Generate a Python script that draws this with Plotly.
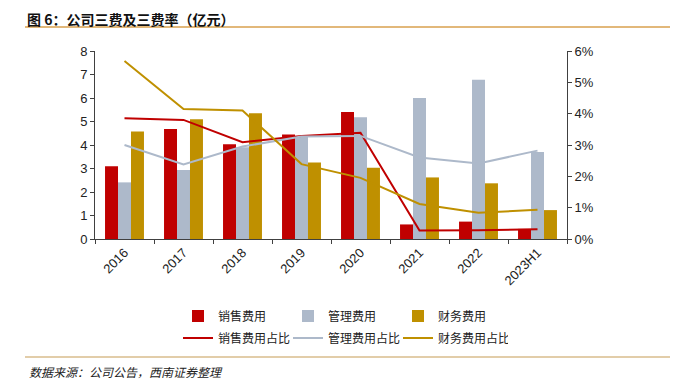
import plotly.graph_objects as go

categories = ["2016", "2017", "2018", "2019", "2020", "2021", "2022", "2023H1"]
sales_exp = [3.1, 4.68, 4.03, 4.45, 5.4, 0.62, 0.74, 0.43]
admin_exp = [2.41, 2.94, 3.9, 4.38, 5.18, 6.0, 6.78, 3.7]
fin_exp = [4.57, 5.1, 5.35, 3.26, 3.03, 2.62, 2.37, 1.23]
sales_ratio = [0.0385, 0.038, 0.0309, 0.0329, 0.0339, 0.0027, 0.0028, 0.0031]
admin_ratio = [0.030, 0.0238, 0.0295, 0.0327, 0.0329, 0.026, 0.0241, 0.0282]
fin_ratio = [0.0568, 0.0415, 0.041, 0.0239, 0.0195, 0.0112, 0.0084, 0.0093]

RED = "#C00000"
GRAY = "#ADB9CA"
GOLD = "#BF9000"
CJK = "Noto Sans CJK SC"

fig = go.Figure()
for name, vals, col in [("销售费用", sales_exp, RED), ("管理费用", admin_exp, GRAY), ("财务费用", fin_exp, GOLD)]:
    fig.add_trace(go.Bar(x=categories, y=vals, name=name, marker_color=col,
                         marker_line_width=0, legend="legend"))
for name, vals, col in [("销售费用占比", sales_ratio, RED), ("管理费用占比", admin_ratio, GRAY), ("财务费用占比", fin_ratio, GOLD)]:
    fig.add_trace(go.Scatter(x=categories, y=vals, name=name, mode="lines",
                             line=dict(color=col, width=2), yaxis="y2", legend="legend2"))

# page body adds ~8px offset; compensate
OFF = 8
axis_col = "#404040"
fig.update_layout(
    width=694 - OFF, height=383 - OFF,
    margin=dict(l=95 - OFF, r=127, t=51 - OFF, b=144, autoexpand=False),
    paper_bgcolor="white", plot_bgcolor="white",
    barmode="group", bargap=0.34, bargroupgap=0,
    font=dict(family="Liberation Sans, Arial", size=12, color="#222"),
    xaxis=dict(showline=True, linecolor=axis_col, linewidth=1, ticks="outside", tickson="boundaries",
               ticklen=4, tickcolor=axis_col, tickangle=-45, showgrid=False, zeroline=False,
               tickfont=dict(size=13, color="#222")),
    yaxis=dict(range=[0, 8], dtick=1, showline=True, linecolor=axis_col, linewidth=1, ticks="outside",
               ticklen=4, tickcolor=axis_col, showgrid=False, zeroline=False,
               tickfont=dict(size=13, color="#222")),
    yaxis2=dict(range=[0, 0.06], dtick=0.01, tickformat=".0%", overlaying="y", side="right",
                showline=True, linecolor=axis_col, linewidth=1, ticks="outside", ticklen=4,
                tickcolor=axis_col, showgrid=False, zeroline=False, tickfont=dict(size=13, color="#222")),
    legend=dict(orientation="h", x=(178 - 95) / 472, xanchor="left", y=(239 - 316) / 188, yanchor="middle",
                entrywidth=65, entrywidthmode="pixels", font=dict(family=CJK, size=12, color="#222"),
                itemwidth=30, bgcolor="rgba(0,0,0,0)", tracegroupgap=0),
    legend2=dict(orientation="h", x=(178 - 95) / 472, xanchor="left", y=(239 - 338) / 188, yanchor="middle",
                 entrywidth=65, entrywidthmode="pixels", font=dict(family=CJK, size=12, color="#222"),
                 itemwidth=30, bgcolor="rgba(0,0,0,0)", tracegroupgap=0),
    showlegend=True,
)

fig.add_annotation(xref="paper", yref="paper", x=(26 - 95) / 472, y=(239 - 8) / 188, xanchor="left",
                   yanchor="top", text="<b>图 6：公司三费及三费率（亿元）</b>", showarrow=False,
                   borderpad=0, font=dict(family=CJK, size=14, color="#111"))
fig.add_annotation(xref="paper", yref="paper", x=(27 - 95) / 472, y=(239 - 371) / 188, xanchor="left",
                   yanchor="middle", text="<i>数据来源：公司公告，西南证券整理</i>", showarrow=False,
                   font=dict(family=CJK, size=12, color="#222"))
fig.add_shape(type="line", xref="paper", yref="paper", x0=(25 - 95) / 472, x1=(670 - 95) / 472,
              y0=(239 - 27) / 188, y1=(239 - 27) / 188, line=dict(color="#D9A04E", width=1.5))
fig.add_shape(type="line", xref="paper", yref="paper", x0=(25 - 95) / 472, x1=(670 - 95) / 472,
              y0=(239 - 357) / 188, y1=(239 - 357) / 188, line=dict(color="#D8BC8C", width=1.5))

fig.write_html("out.html")
